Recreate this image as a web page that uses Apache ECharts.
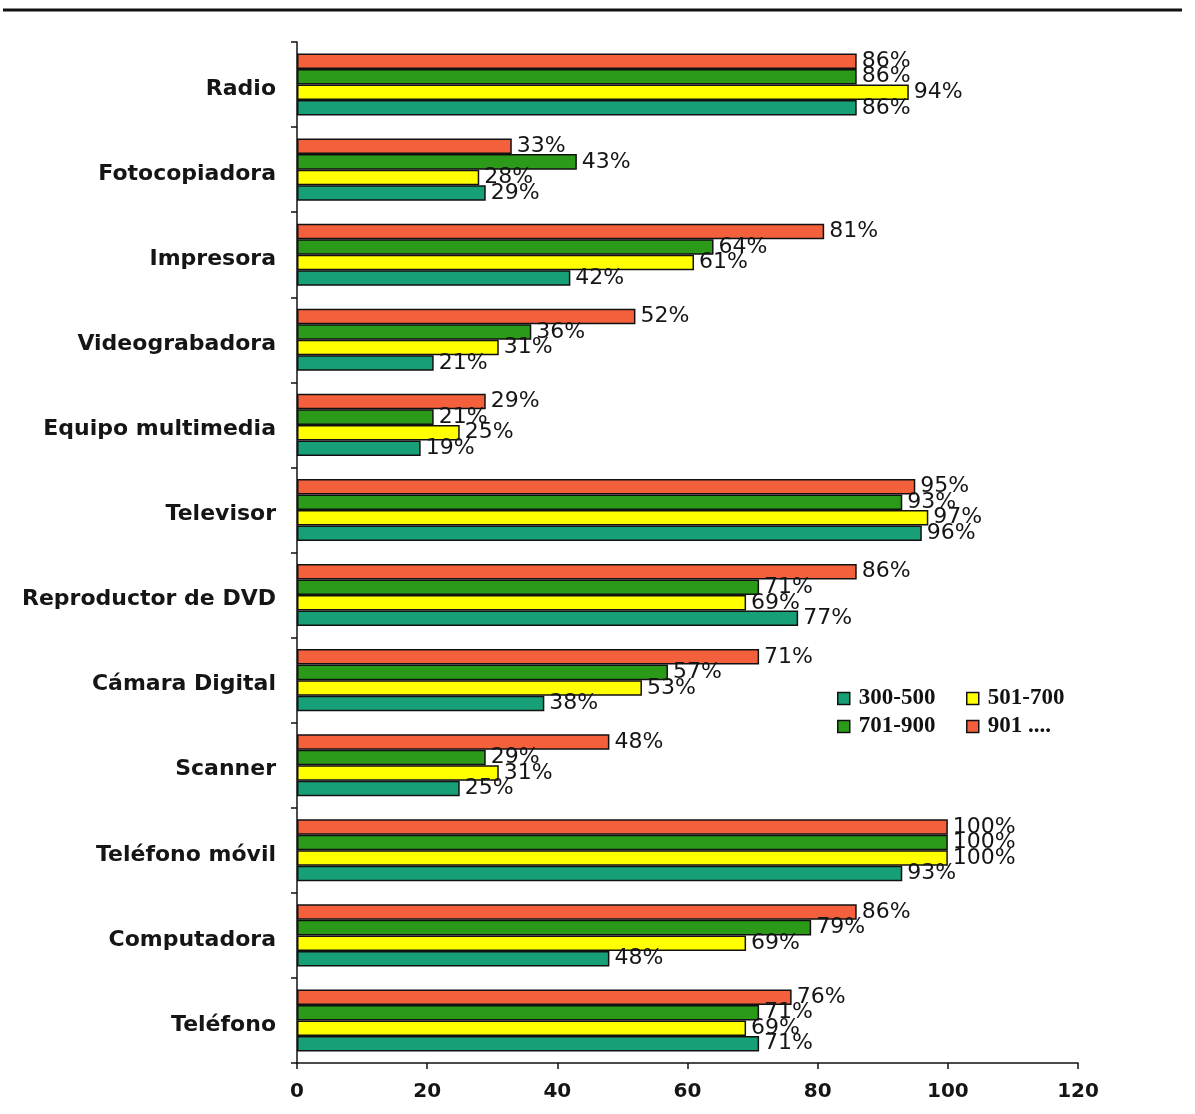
<!DOCTYPE html>
<html>
<head>
<meta charset="utf-8">
<script src="https://cdn.jsdelivr.net/npm/echarts@6/dist/echarts.min.js"></script>
<style>
  html, body { margin: 0; padding: 0; background: #fff; }
  #chart { width: 1195px; height: 1114px; }
</style>
</head>
<body>
<div id="chart"></div>
<script>
// Equipment ownership by income bracket (%)
const categories = [
  'Radio', 'Fotocopiadora', 'Impresora', 'Videograbadora', 'Equipo multimedia',
  'Televisor', 'Reproductor de DVD', 'Cámara Digital', 'Scanner',
  'Teléfono móvil', 'Computadora', 'Teléfono'
];
const seriesNames = ['901 ....', '701-900', '501-700', '300-500'];
const values901  = [86, 33, 81, 52, 29, 95, 86, 71, 48, 100, 86, 76];
const values701  = [86, 43, 64, 36, 21, 93, 71, 57, 29, 100, 79, 71];
const values501  = [94, 28, 61, 31, 25, 97, 69, 53, 31, 100, 69, 69];
const values300  = [86, 29, 42, 21, 19, 96, 77, 38, 25, 93, 48, 71];
const xTicks = { min: 0, max: 120, interval: 20 };

const colors = {
  '901 ....': '#f4603c',
  '701-900': '#2a9a18',
  '501-700': '#ffff00',
  '300-500': '#17a078'
};
const seriesData = [values901, values701, values501, values300];

const chart = echarts.init(document.getElementById('chart'), null, { renderer: 'canvas' });

const series = seriesNames.map((name, i) => ({
  name: name,
  type: 'bar',
  data: seriesData[i],
  barGap: '0%',
  barCategoryGap: '27%',
  itemStyle: { color: colors[name], borderColor: '#111', borderWidth: 1.5 },
  label: {
    show: true,
    position: 'right',
    distance: 5,
    formatter: '{c}%',
    fontFamily: 'DejaVu Sans',
    fontSize: 22,
    color: '#151515'
  }
}));

function legendAt(name, left, top) {
  return {
    data: [name],
    left: left,
    top: top,
    orient: 'horizontal',
    itemWidth: 12,
    itemHeight: 12,
    itemGap: 8,
    icon: 'rect',
    itemStyle: { borderColor: '#111', borderWidth: 1.5 },
    textStyle: { fontFamily: 'Liberation Serif', fontWeight: 'bold', fontSize: 23, color: '#111', padding: [0, 0, 0, 4] },
    selectedMode: false
  };
}

chart.setOption({
  animation: false,
  backgroundColor: '#ffffff',
  grid: { left: 297, right: 117, top: 42, bottom: 51, containLabel: false },
  legend: [
    legendAt('300-500', 832, 682),
    legendAt('501-700', 961, 682),
    legendAt('701-900', 832, 710),
    legendAt('901 ....', 961, 710)
  ],
  xAxis: {
    type: 'value',
    min: xTicks.min,
    max: xTicks.max,
    interval: xTicks.interval,
    axisLine: { show: true, lineStyle: { color: '#111', width: 1.5 } },
    axisTick: { show: true, length: 6, lineStyle: { color: '#111', width: 1.5 } },
    splitLine: { show: false },
    axisLabel: { fontFamily: 'DejaVu Sans', fontWeight: 'bold', fontSize: 20, color: '#151515', margin: 19 }
  },
  yAxis: {
    type: 'category',
    data: categories,
    inverse: true,
    axisLine: { show: true, lineStyle: { color: '#111', width: 1.5 } },
    axisTick: { show: true, length: 6, alignWithLabel: false, lineStyle: { color: '#111', width: 1.5 } },
    axisLabel: {
      margin: 21,
      formatter: '{cat|{value}}',
      rich: {
        cat: {
          fontFamily: 'DejaVu Sans', fontWeight: 'bold', fontSize: 22, color: '#151515',
          padding: [9, 0, 0, 0]
        }
      }
    }
  },
  graphic: [{
    type: 'line',
    shape: { x1: 3, y1: 10, x2: 1182, y2: 10 },
    style: { stroke: '#111', lineWidth: 3 }
  }],
  series: series
});
</script>
</body>
</html>
